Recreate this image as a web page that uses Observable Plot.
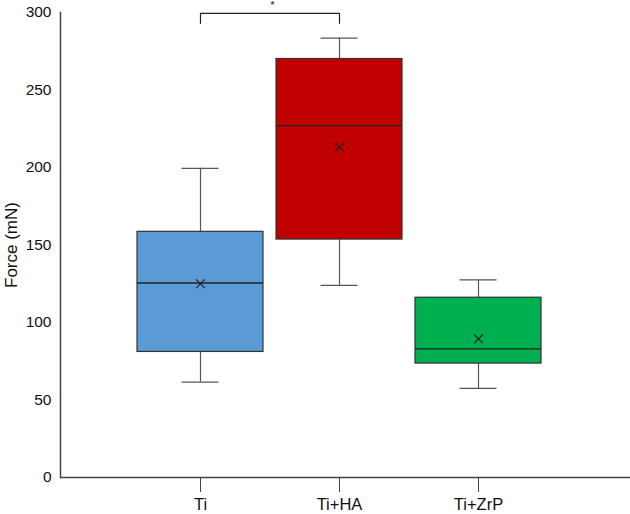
<!DOCTYPE html>
<html>
<head>
<meta charset="utf-8">
<script src="https://cdn.jsdelivr.net/npm/d3@7"></script>
<script src="https://cdn.jsdelivr.net/npm/@observablehq/plot@0.6"></script>
<style>
  html, body { margin: 0; padding: 0; background: #fff; }
  #chart svg { display: block; }
</style>
</head>
<body>
<div id="chart"></div>
<script>
const categories = ["Ti", "Ti+HA", "Ti+ZrP"];
const colors = ["#5B9BD5", "#C00000", "#00B050"];
const whiskerLow = [61.5, 124, 57.5];
const q1 = [81, 153.5, 73.5];
const median = [125.5, 227, 83];
const q3 = [158.5, 270, 116];
const whiskerHigh = [199.5, 283.5, 127.5];
const mean = [125, 213, 89.5];
const yTicks = [0, 50, 100, 150, 200, 250, 300];
const bracket = [
  {x: "Ti", y: 293}, {x: "Ti", y: 299.5},
  {x: "Ti+HA", y: 299.5}, {x: "Ti+HA", y: 293}
];
const sigLabel = "*";

const data = categories.map((c, i) => ({
  cat: c, lo: whiskerLow[i], q1: q1[i], med: median[i], q3: q3[i], hi: whiskerHigh[i], mean: mean[i]
}));

const capInset = 44.5;

const chart = Plot.plot({
  width: 630,
  height: 514,
  marginLeft: 60,
  marginRight: 0,
  marginTop: 12,
  marginBottom: 37,
  style: {fontFamily: "'Liberation Sans', Arial, sans-serif", fontSize: "15px", color: "#222", background: "#fff"},
  x: {type: "band", domain: categories, paddingInner: 0.097, paddingOuter: 0.55, insetRight: 11.5, label: null},
  y: {domain: [0, 300], label: null},
  color: {domain: categories, range: colors},
  marks: [
    Plot.axisY({ticks: yTicks, tickSize: 0, tickPadding: 9, fontSize: 15.5, label: null, fill: "#111"}),
    Plot.text(["Force (mN)"], {frameAnchor: "left", textAnchor: "middle", dx: -49, rotate: -90, fontSize: 17, fill: "#111"}),
    Plot.axisX({tickSize: 15, tickPadding: 6, fontSize: 16.5, label: null, stroke: "#444", fill: "#111"}),
    Plot.ruleX(data, {x: "cat", y1: "lo", y2: "q1", stroke: "#555", strokeWidth: 1.2}),
    Plot.ruleX(data, {x: "cat", y1: "q3", y2: "hi", stroke: "#555", strokeWidth: 1.2}),
    Plot.tickY(data, {x: "cat", y: "lo", stroke: "#555", strokeWidth: 1.2, insetLeft: capInset, insetRight: capInset}),
    Plot.tickY(data, {x: "cat", y: "hi", stroke: "#555", strokeWidth: 1.2, insetLeft: capInset, insetRight: capInset}),
    Plot.barY(data, {x: "cat", y1: "q1", y2: "q3", fill: "cat", stroke: "#333", strokeWidth: 1.2}),
    Plot.tickY(data, {x: "cat", y: "med", stroke: "#222", strokeWidth: 1.3}),
    Plot.dot(data, {x: "cat", y: "mean", symbol: "times", r: 4, stroke: "#222", strokeWidth: 1.2}),
    Plot.line(bracket, {x: "x", y: "y", stroke: "#222", strokeWidth: 1.2}),
    Plot.text([sigLabel], {x: () => "Ti", y: () => 299.5, dx: 72, dy: -12.5, lineAnchor: "top", fontSize: 11, fill: "#222"}),
    Plot.ruleY([0], {stroke: "#444", strokeWidth: 1.5}),
    Plot.frame({anchor: "left", stroke: "#444", strokeWidth: 1.5})
  ]
});
document.getElementById("chart").appendChild(chart);
</script>
</body>
</html>
